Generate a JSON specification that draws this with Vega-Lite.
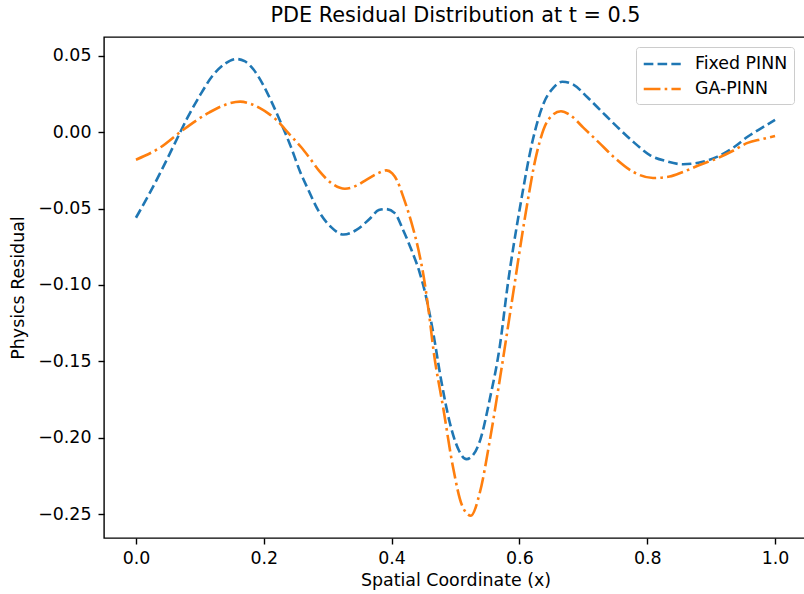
{
  "$schema": "https://vega.github.io/schema/vega-lite/v6.json",
  "autosize": {"type": "none"},
  "padding": {"left": 104, "top": 37, "right": 0, "bottom": 56},
  "width": 703,
  "height": 501,
  "background": "#ffffff",
  "title": {"text": "PDE Residual Distribution at t = 0.5", "fontSize": 20.8, "fontWeight": "normal", "color": "#000000", "font": "DejaVu Sans", "offset": 10, "anchor": "middle"},
  "data": {"values": [
    {"x": 0.000, "y": -0.056, "model": "Fixed PINN"},
    {"x": 0.020, "y": -0.041, "model": "Fixed PINN"},
    {"x": 0.040, "y": -0.025, "model": "Fixed PINN"},
    {"x": 0.060, "y": -0.008, "model": "Fixed PINN"},
    {"x": 0.080, "y": 0.009, "model": "Fixed PINN"},
    {"x": 0.100, "y": 0.024, "model": "Fixed PINN"},
    {"x": 0.120, "y": 0.037, "model": "Fixed PINN"},
    {"x": 0.140, "y": 0.045, "model": "Fixed PINN"},
    {"x": 0.157, "y": 0.0479, "model": "Fixed PINN"},
    {"x": 0.170, "y": 0.0465, "model": "Fixed PINN"},
    {"x": 0.184, "y": 0.041, "model": "Fixed PINN"},
    {"x": 0.199, "y": 0.031, "model": "Fixed PINN"},
    {"x": 0.212, "y": 0.020, "model": "Fixed PINN"},
    {"x": 0.228, "y": 0.005, "model": "Fixed PINN"},
    {"x": 0.241, "y": -0.008, "model": "Fixed PINN"},
    {"x": 0.257, "y": -0.026, "model": "Fixed PINN"},
    {"x": 0.270, "y": -0.038, "model": "Fixed PINN"},
    {"x": 0.285, "y": -0.051, "model": "Fixed PINN"},
    {"x": 0.305, "y": -0.062, "model": "Fixed PINN"},
    {"x": 0.325, "y": -0.067, "model": "Fixed PINN"},
    {"x": 0.345, "y": -0.064, "model": "Fixed PINN"},
    {"x": 0.365, "y": -0.057, "model": "Fixed PINN"},
    {"x": 0.380, "y": -0.051, "model": "Fixed PINN"},
    {"x": 0.391, "y": -0.0503, "model": "Fixed PINN"},
    {"x": 0.405, "y": -0.053, "model": "Fixed PINN"},
    {"x": 0.418, "y": -0.064, "model": "Fixed PINN"},
    {"x": 0.431, "y": -0.077, "model": "Fixed PINN"},
    {"x": 0.444, "y": -0.092, "model": "Fixed PINN"},
    {"x": 0.453, "y": -0.106, "model": "Fixed PINN"},
    {"x": 0.465, "y": -0.131, "model": "Fixed PINN"},
    {"x": 0.477, "y": -0.161, "model": "Fixed PINN"},
    {"x": 0.491, "y": -0.190, "model": "Fixed PINN"},
    {"x": 0.505, "y": -0.208, "model": "Fixed PINN"},
    {"x": 0.517, "y": -0.214, "model": "Fixed PINN"},
    {"x": 0.528, "y": -0.211, "model": "Fixed PINN"},
    {"x": 0.539, "y": -0.201, "model": "Fixed PINN"},
    {"x": 0.554, "y": -0.174, "model": "Fixed PINN"},
    {"x": 0.569, "y": -0.141, "model": "Fixed PINN"},
    {"x": 0.582, "y": -0.099, "model": "Fixed PINN"},
    {"x": 0.601, "y": -0.049, "model": "Fixed PINN"},
    {"x": 0.621, "y": -0.005, "model": "Fixed PINN"},
    {"x": 0.638, "y": 0.019, "model": "Fixed PINN"},
    {"x": 0.653, "y": 0.029, "model": "Fixed PINN"},
    {"x": 0.667, "y": 0.033, "model": "Fixed PINN"},
    {"x": 0.685, "y": 0.031, "model": "Fixed PINN"},
    {"x": 0.706, "y": 0.023, "model": "Fixed PINN"},
    {"x": 0.730, "y": 0.013, "model": "Fixed PINN"},
    {"x": 0.753, "y": 0.0035, "model": "Fixed PINN"},
    {"x": 0.780, "y": -0.007, "model": "Fixed PINN"},
    {"x": 0.804, "y": -0.015, "model": "Fixed PINN"},
    {"x": 0.830, "y": -0.019, "model": "Fixed PINN"},
    {"x": 0.856, "y": -0.021, "model": "Fixed PINN"},
    {"x": 0.880, "y": -0.020, "model": "Fixed PINN"},
    {"x": 0.910, "y": -0.016, "model": "Fixed PINN"},
    {"x": 0.935, "y": -0.010, "model": "Fixed PINN"},
    {"x": 0.957, "y": -0.003, "model": "Fixed PINN"},
    {"x": 0.980, "y": 0.003, "model": "Fixed PINN"},
    {"x": 1.000, "y": 0.008, "model": "Fixed PINN"},
    {"x": 0.000, "y": -0.018, "model": "GA-PINN"},
    {"x": 0.038, "y": -0.010, "model": "GA-PINN"},
    {"x": 0.072, "y": 0.001, "model": "GA-PINN"},
    {"x": 0.115, "y": 0.013, "model": "GA-PINN"},
    {"x": 0.140, "y": 0.018, "model": "GA-PINN"},
    {"x": 0.163, "y": 0.020, "model": "GA-PINN"},
    {"x": 0.180, "y": 0.0185, "model": "GA-PINN"},
    {"x": 0.194, "y": 0.0157, "model": "GA-PINN"},
    {"x": 0.208, "y": 0.012, "model": "GA-PINN"},
    {"x": 0.220, "y": 0.008, "model": "GA-PINN"},
    {"x": 0.233, "y": 0.002, "model": "GA-PINN"},
    {"x": 0.246, "y": -0.004, "model": "GA-PINN"},
    {"x": 0.259, "y": -0.010, "model": "GA-PINN"},
    {"x": 0.272, "y": -0.017, "model": "GA-PINN"},
    {"x": 0.288, "y": -0.026, "model": "GA-PINN"},
    {"x": 0.308, "y": -0.034, "model": "GA-PINN"},
    {"x": 0.327, "y": -0.037, "model": "GA-PINN"},
    {"x": 0.345, "y": -0.035, "model": "GA-PINN"},
    {"x": 0.361, "y": -0.031, "model": "GA-PINN"},
    {"x": 0.378, "y": -0.027, "model": "GA-PINN"},
    {"x": 0.392, "y": -0.025, "model": "GA-PINN"},
    {"x": 0.401, "y": -0.027, "model": "GA-PINN"},
    {"x": 0.409, "y": -0.032, "model": "GA-PINN"},
    {"x": 0.418, "y": -0.042, "model": "GA-PINN"},
    {"x": 0.431, "y": -0.059, "model": "GA-PINN"},
    {"x": 0.442, "y": -0.077, "model": "GA-PINN"},
    {"x": 0.450, "y": -0.094, "model": "GA-PINN"},
    {"x": 0.458, "y": -0.117, "model": "GA-PINN"},
    {"x": 0.466, "y": -0.144, "model": "GA-PINN"},
    {"x": 0.481, "y": -0.181, "model": "GA-PINN"},
    {"x": 0.496, "y": -0.219, "model": "GA-PINN"},
    {"x": 0.510, "y": -0.244, "model": "GA-PINN"},
    {"x": 0.524, "y": -0.251, "model": "GA-PINN"},
    {"x": 0.538, "y": -0.236, "model": "GA-PINN"},
    {"x": 0.554, "y": -0.201, "model": "GA-PINN"},
    {"x": 0.570, "y": -0.160, "model": "GA-PINN"},
    {"x": 0.590, "y": -0.106, "model": "GA-PINN"},
    {"x": 0.609, "y": -0.055, "model": "GA-PINN"},
    {"x": 0.627, "y": -0.014, "model": "GA-PINN"},
    {"x": 0.645, "y": 0.008, "model": "GA-PINN"},
    {"x": 0.665, "y": 0.0137, "model": "GA-PINN"},
    {"x": 0.680, "y": 0.011, "model": "GA-PINN"},
    {"x": 0.700, "y": 0.003, "model": "GA-PINN"},
    {"x": 0.725, "y": -0.007, "model": "GA-PINN"},
    {"x": 0.747, "y": -0.016, "model": "GA-PINN"},
    {"x": 0.778, "y": -0.026, "model": "GA-PINN"},
    {"x": 0.809, "y": -0.030, "model": "GA-PINN"},
    {"x": 0.835, "y": -0.029, "model": "GA-PINN"},
    {"x": 0.856, "y": -0.026, "model": "GA-PINN"},
    {"x": 0.885, "y": -0.021, "model": "GA-PINN"},
    {"x": 0.910, "y": -0.017, "model": "GA-PINN"},
    {"x": 0.935, "y": -0.012, "model": "GA-PINN"},
    {"x": 0.957, "y": -0.007, "model": "GA-PINN"},
    {"x": 0.980, "y": -0.0045, "model": "GA-PINN"},
    {"x": 1.000, "y": -0.0025, "model": "GA-PINN"}
  ]},
  "mark": {"type": "line", "interpolate": "monotone", "strokeWidth": 2.6},
  "encoding": {
    "x": {"field": "x", "type": "quantitative",
          "scale": {"domain": [-0.05, 1.05], "nice": false, "zero": false},
          "axis": {"title": "Spatial Coordinate (x)", "values": [0, 0.2, 0.4, 0.6, 0.8, 1.0], "format": ".1f", "labelPadding": 5, "titlePadding": 5}},
    "y": {"field": "y", "type": "quantitative",
          "scale": {"domain": [-0.2656, 0.0623], "nice": false, "zero": false},
          "axis": {"title": "Physics Residual", "values": [-0.25, -0.2, -0.15, -0.1, -0.05, 0, 0.05], "format": ".2f", "labelPadding": 7, "titlePadding": 10}},
    "color": {"field": "model", "type": "nominal",
              "scale": {"domain": ["Fixed PINN", "GA-PINN"], "range": ["#1f77b4", "#ff7f0e"]},
              "legend": {"title": null}},
    "strokeDash": {"field": "model", "type": "nominal",
                   "scale": {"domain": ["Fixed PINN", "GA-PINN"], "range": [[9.6, 4.2], [16.7, 4.2, 2.6, 4.2]]},
                   "legend": {"title": null}}
  },
  "config": {
    "font": "DejaVu Sans",
    "view": {"stroke": "#000000", "strokeWidth": 1.4},
    "axis": {
      "domain": false, "grid": false,
      "tickColor": "#000000", "tickSize": 6, "tickWidth": 1.4,
      "labelFont": "DejaVu Sans", "labelFontSize": 17.4, "labelColor": "#000000",
      "titleFont": "DejaVu Sans", "titleFontSize": 17.4, "titleFontWeight": "normal", "titleColor": "#000000"
    },
    "legend": {
      "orient": "none", "legendX": 532, "legendY": 10,
      "labelFont": "DejaVu Sans", "labelFontSize": 17.4, "labelColor": "#000000",
      "symbolType": "M-1,0H3", "symbolSize": 342, "symbolStrokeWidth": 2.6,
      "strokeColor": "#cccccc", "fillColor": "#ffffff", "cornerRadius": 3,
      "padding": 6, "rowPadding": 5, "labelOffset": 31
    }
  }
}
